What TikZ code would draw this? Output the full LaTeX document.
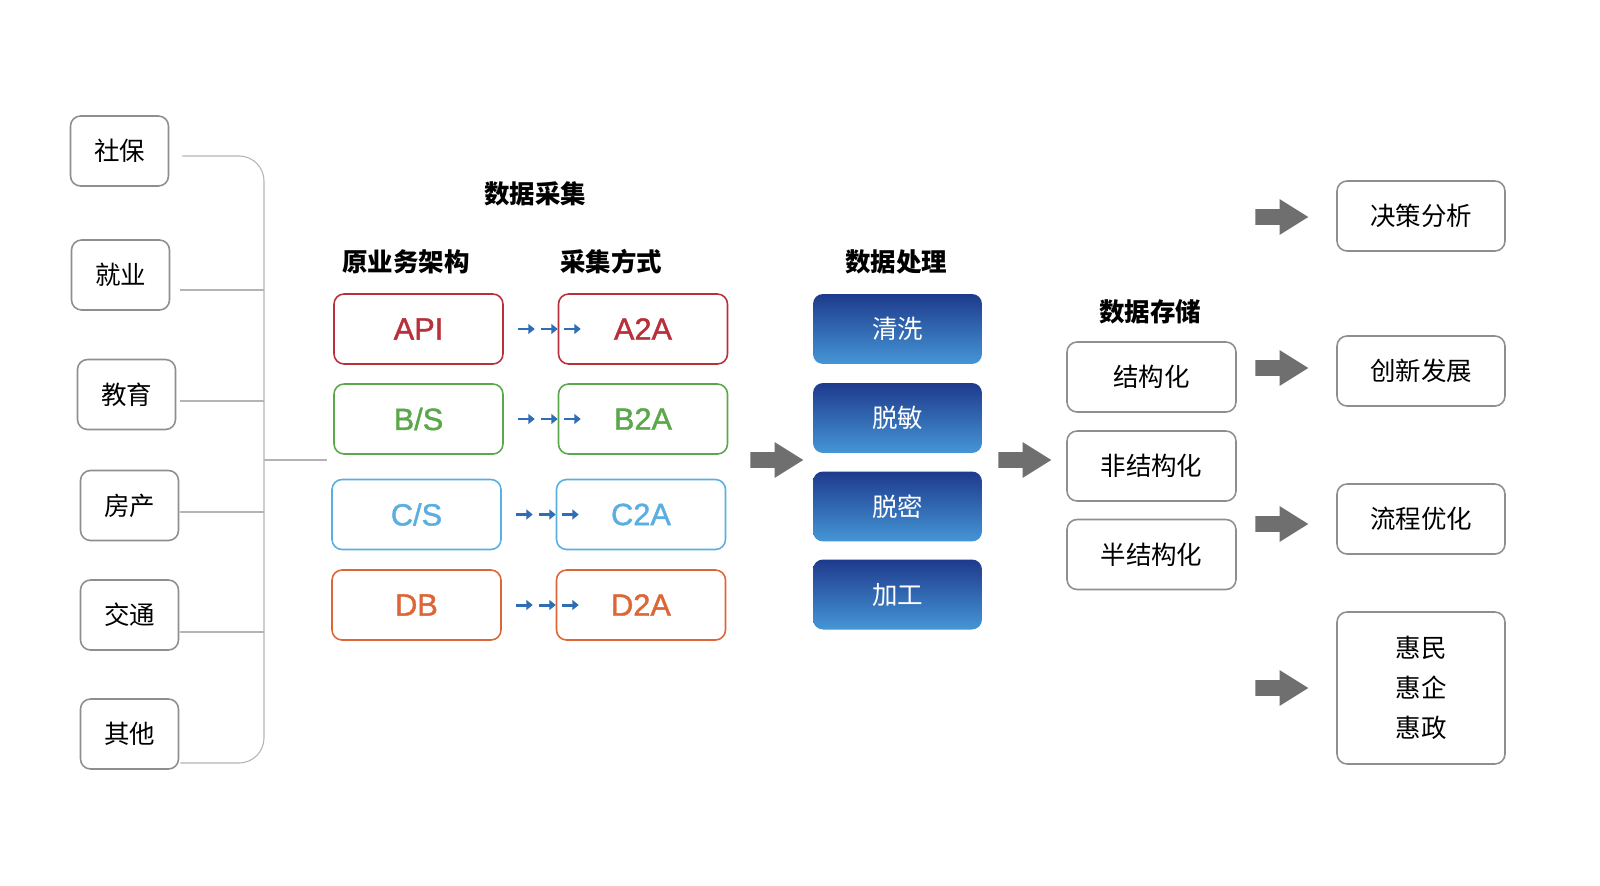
\documentclass[tikz,border=0pt]{standalone}
\usepackage{fontspec}
\setmainfont{Noto Sans CJK SC}
\newfontfamily\latinsans{Liberation Sans}[FakeBold=1.3]
\usepackage{xcolor}
\usetikzlibrary{arrows.meta,shapes.arrows,positioning,calc}
\definecolor{boxgray}{HTML}{8E8E8E}
\definecolor{bracegray}{HTML}{B4B4B4}
\definecolor{bigarrowgray}{HTML}{6F6F6F}
\definecolor{apired}{HTML}{B8303A}
\definecolor{bsgreen}{HTML}{5BA74B}
\definecolor{csblue}{HTML}{5AAEE0}
\definecolor{dborange}{HTML}{DD6536}
\definecolor{tinyblue}{HTML}{2F6DB5}
\definecolor{procdark}{HTML}{1E3A8C}
\definecolor{proclight}{HTML}{4596D6}
\tikzset{
  cjkfont/.style={font=\fontsize{14.5}{22.7}\selectfont},
  areabox/.style={draw=boxgray,line width=0.9pt,rounded corners=0.2cm,minimum width=1.96cm,minimum height=1.4cm,cjkfont},
  wayhead/.style={font=\bfseries\fontsize{14.5}{17}\selectfont},
  waybox/.style={draw=#1,text=#1,line width=0.9pt,rounded corners=0.2cm,minimum width=3.38cm,minimum height=1.4cm,font=\latinsans\fontsize{17.5}{20}\selectfont},
  procbox/.style={rounded corners=0.2cm,top color=procdark,bottom color=proclight,text=white,minimum width=3.38cm,minimum height=1.4cm,cjkfont},
  storebox/.style={draw=boxgray,line width=0.9pt,rounded corners=0.2cm,minimum width=3.38cm,minimum height=1.4cm,cjkfont},
  usebox/.style={draw=boxgray,line width=0.9pt,rounded corners=0.2cm,minimum width=3.36cm,minimum height=1.4cm,align=center,cjkfont},
  bracelink/.style={draw=bracegray,line width=0.6pt},
  tinyarrow/.style={-{Triangle[length=1.3mm,width=2mm]},draw=tinyblue,line width=1.7pt},
  bigarrow/.style={single arrow,fill=bigarrowgray,draw=none,minimum height=1.06cm,inner xsep=0pt,inner ysep=0.15cm,single arrow head extend=0.2cm,single arrow tip angle=64}
}
\begin{document}
\begin{tikzpicture}[x=0.02cm,y=-0.02cm]
\path[use as bounding box,fill=white] (0,0) rectangle (1600,886);
% source sectors
\node[areabox] (shebao) at (119.5,151) {社保};
\node[areabox] (jiuye) at (120.5,275) {就业};
\node[areabox] (jiaoyu) at (126.5,394.5) {教育};
\node[areabox] (fangchan) at (129.5,505.5) {房产};
\node[areabox] (jiaotong) at (129.5,615) {交通};
\node[areabox] (qita) at (129.5,734) {其他};
% bracket
\coordinate (brmid) at (264,460);
\coordinate (brend) at (327,460);
\foreach \n/\dx/\dy in {shebao/13/5,jiuye/10/15,jiaoyu/4/6.5,fangchan/1/6.5,jiaotong/1/17,qita/1/29}{\path ([shift={(\dx,\dy)}]\n.east) coordinate (s\n);}
\draw[bracelink,rounded corners=0.5cm] (sshebao) -| (brmid) |- (sqita);
\foreach \n in {jiuye,jiaoyu,fangchan,jiaotong}{\draw[bracelink] (s\n) -- (s\n -| brmid);}
\draw[bracelink] (brmid) -- (brend);
% data collection
\node[wayhead] (collect) at (535,194) {数据采集};
\node[wayhead] (orighead) at (406,262) {原业务架构};
\node[wayhead] (wayhead) at (611,262) {采集方式};
\node[waybox=apired] (api) at (418.5,329) {API};
\node[waybox=bsgreen] (bs) at (418.5,419) {B/S};
\node[waybox=csblue] (cs) at (416.5,514.5) {C/S};
\node[waybox=dborange] (db) at (416.5,605) {DB};
\node[waybox=apired] (a2a) at (643,329) {A2A};
\node[waybox=bsgreen] (b2a) at (643,419) {B2A};
\node[waybox=csblue] (c2a) at (641,514.5) {C2A};
\node[waybox=dborange] (d2a) at (641,605) {D2A};
\foreach \s in {api,bs,cs,db}{
  \foreach \k in {0,1,2}{\draw[tinyarrow] ([xshift=14*0.02cm+\k*0.46cm]\s.east) -- ++(17,0);}
}
% processing
\node[bigarrow] (go1) at (770.5,460) {};
\node[wayhead] (prochead) at (896,262) {数据处理};
\node[procbox] (qingxi) at (897.5,329) {清洗};
\node[procbox] (tuomin) at (897.5,418) {脱敏};
\node[procbox] (tuomi) at (897.5,506.5) {脱密};
\node[procbox] (jiagong) at (897.5,594.5) {加工};
\node[bigarrow] (go2) at (1018.5,460) {};
% storage
\node[wayhead] (storehead) at (1150,312) {数据存储};
\node[storebox] (jgh) at (1151.5,377) {结构化};
\node[storebox] (fjgh) at (1151.5,466) {非结构化};
\node[storebox] (bjgh) at (1151.5,554.5) {半结构化};
% uses
\foreach \y [count=\i] in {217,368,524,688}{\node[bigarrow] (out\i) at (1275.5,\y) {};}
\node[usebox] (juece) at (1421,216) {决策分析};
\node[usebox] (chuangxin) at (1421,371) {创新发展};
\node[usebox] (liucheng) at (1421,519) {流程优化};
\node[usebox,minimum height=3.04cm] (huimin) at (1421,688) {惠民\\惠企\\惠政};
\end{tikzpicture}
\end{document}
